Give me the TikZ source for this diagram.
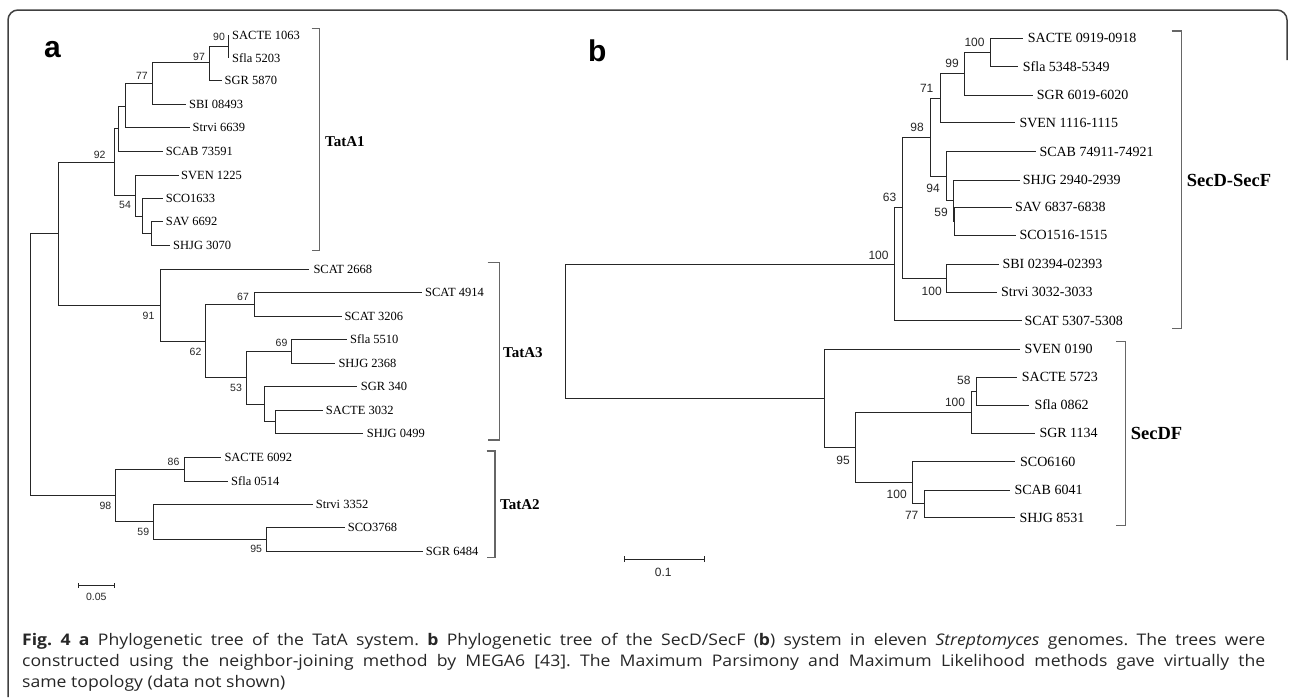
\documentclass[tikz,border=0pt]{standalone}
\usepackage{fontspec}
\setmainfont{Liberation Serif}
\newfontfamily\numfont{Liberation Sans}
\newfontfamily\capfont[FakeStretch=1.1]{Open Sans}
\newcommand{\mkleaf}[7]{\coordinate (#1) at (#3,#4); \draw[br] (#2) |- (#1); \node[#6] (#1t) at (#5,#4) {#7};}
\newcommand{\mknode}[4]{\coordinate (#1) at (#3,#4); \draw[br] (#2) |- (#1);}
\frenchspacing
\begin{document}
\begin{tikzpicture}[x=1pt,y=-1pt]
\tikzset{
 br/.style={line width=0.9pt, draw=black!85},
 brk/.style={line width=1.2pt, draw=black!60},
 la/.style={font=\fontsize{12.5}{14}\selectfont, anchor=base west, inner sep=0pt, yshift=-4.1pt},
 lb/.style={font=\fontsize{14}{16}\selectfont, anchor=base west, inner sep=0pt, yshift=-4.6pt},
 bsa/.style={font=\numfont\fontsize{10.5}{12}\selectfont, inner sep=0pt, text=black!85},
 bsb/.style={font=\numfont\fontsize{12}{14}\selectfont, inner sep=0pt, text=black!85},
 grpa/.style={font=\bfseries\fontsize{15}{17}\selectfont, anchor=west, inner sep=0pt},
 grpb/.style={font=\bfseries\fontsize{18.5}{20}\selectfont, anchor=west, inner sep=0pt},
 panel/.style={font=\numfont\bfseries\fontsize{30}{32}\selectfont, inner sep=0pt, anchor=base west},
 capline/.style={font=\capfont\fontsize{16}{18}\selectfont\frenchspacing, inner sep=0pt, anchor=base west, text=black!85},
 framestyle/.style={line width=1.5pt, draw=black!75, rounded corners=10pt},
}
\useasboundingbox (0,0) rectangle (1290,697);
% frame
\coordinate (fr1) at (8,697);
\coordinate (fr2) at (1287,10);
\coordinate (fr3) at (1287,60);
\draw[framestyle] (fr1) |- (fr2) -- (fr3);
% panel labels
\node[panel] (pa) at (44,57.3) {a};
\node[panel] (pb) at (588,61.7) {b};
% ================= panel a =================
\coordinate (A0) at (30.7,364.5);
\mknode{A1}{A0}{58.3}{233.5}
\mknode{a92}{A1}{114.3}{162}
\mknode{aS}{a92}{118.7}{128.8}
\mknode{aR}{aS}{125.3}{106}
\mknode{a77}{aR}{152}{83.8}
\mknode{a97}{a77}{209.3}{62.8}
\mknode{a90}{a97}{228}{46.5}
\mkleaf{lSACTEa}{a90}{228}{35}{232}{la}{SACTE 1063}
\mkleaf{lSflaa}{a90}{228}{58}{232}{la}{Sfla 5203}
\mkleaf{lSGRa}{a97}{221.7}{80}{224.5}{la}{SGR 5870}
\mkleaf{lSBIa}{a77}{185.7}{104.3}{189}{la}{SBI 08493}
\mkleaf{lStrvia}{aR}{190}{127.7}{192.5}{la}{Strvi 6639}
\mkleaf{lSCABa}{aS}{163}{151.7}{165.7}{la}{SCAB 73591}
\mknode{a54}{a92}{135.3}{195.5}
\mkleaf{lSVENa}{a54}{179}{175}{181}{la}{SVEN 1225}
\mknode{aQ}{a54}{142.7}{216}
\mkleaf{lSCOa}{aQ}{163.3}{198.3}{165.7}{la}{SCO1633}
\mknode{aP}{aQ}{151.7}{233.3}
\mkleaf{lSAVa}{aP}{163.3}{221.7}{165.7}{la}{SAV 6692}
\mkleaf{lSHJGa}{aP}{170}{245}{173}{la}{SHJG 3070}
\mknode{a91}{A1}{160}{305}
\mkleaf{lSCATb}{a91}{309.3}{269.3}{313.3}{la}{SCAT 2668}
\mknode{a62}{a91}{205.7}{341}
\mknode{a67}{a62}{254}{304.3}
\mkleaf{lSCATc}{a67}{421.7}{292.7}{425}{la}{SCAT 4914}
\mkleaf{lSCATd}{a67}{341.7}{316}{344.3}{la}{SCAT 3206}
\mknode{a53}{a62}{246.7}{377.8}
\mknode{a69}{a53}{291.7}{351.3}
\mkleaf{lSflab}{a69}{346.7}{339.3}{350}{la}{Sfla 5510}
\mkleaf{lSHJGb}{a69}{335}{363.3}{338.3}{la}{SHJG 2368}
\mknode{aO}{a53}{264}{404.2}
\mkleaf{lSGRb}{aO}{356.7}{386}{360.7}{la}{SGR 340}
\mknode{aN}{aO}{275.7}{421.8}
\mkleaf{lSACTEb}{aN}{322.7}{410.3}{325.7}{la}{SACTE 3032}
\mkleaf{lSHJGc}{aN}{363.3}{433.3}{366.7}{la}{SHJG 0499}
\mknode{a98}{A0}{115.3}{495.5}
\mknode{a86}{a98}{184.3}{469.2}
\mkleaf{lSACTEc}{a86}{221}{457.3}{224.3}{la}{SACTE 6092}
\mkleaf{lSflac}{a86}{228.3}{481}{231}{la}{Sfla 0514}
\mknode{a59}{a98}{153.3}{521.8}
\mkleaf{lStrvib}{a59}{313.3}{504.3}{315.7}{la}{Strvi 3352}
\mknode{a95}{a59}{266.7}{539.4}
\mkleaf{lSCOb}{a95}{345}{527.7}{347.7}{la}{SCO3768}
\mkleaf{lSGRc}{a95}{423.3}{551}{425.7}{la}{SGR 6484}
% bootstrap a
\node[bsa] (ba90) at (219,37.3) {90};
\node[bsa] (ba97) at (199,56.7) {97};
\node[bsa] (ba77) at (142,75.7) {77};
\node[bsa] (ba92) at (99.7,155) {92};
\node[bsa] (ba54) at (125,205) {54};
\node[bsa] (ba91) at (148.5,315.7) {91};
\node[bsa] (ba67) at (243,296.7) {67};
\node[bsa] (ba62) at (195.5,351.7) {62};
\node[bsa] (ba69) at (281.5,343.3) {69};
\node[bsa] (ba53) at (236,388.3) {53};
\node[bsa] (ba86) at (173.5,461.7) {86};
\node[bsa] (ba98) at (105.5,505.7) {98};
\node[bsa] (ba59) at (143.3,532.3) {59};
\node[bsa] (ba95) at (256.2,549.3) {95};
% brackets a
\coordinate (k1a) at (311.7,28.3); \coordinate (k1b) at (319.3,28.3);
\coordinate (k1c) at (319.3,250.7); \coordinate (k1d) at (311.7,250.7);
\draw[brk] (k1a) -- (k1b) -- (k1c) -- (k1d);
\node[grpa] (gTatA1) at (325,141.7) {TatA1};
\coordinate (k3a) at (487.7,262.7); \coordinate (k3b) at (499.3,262.7);
\coordinate (k3c) at (499.3,440); \coordinate (k3d) at (487.7,440);
\draw[brk] (k3a) -- (k3b) -- (k3c) -- (k3d);
\node[grpa] (gTatA3) at (503,352.3) {TatA3};
\coordinate (k2a) at (486.7,451); \coordinate (k2b) at (495,451);
\coordinate (k2c) at (495,557.7); \coordinate (k2d) at (486.7,557.7);
\draw[brk] (k2a) -- (k2b) -- (k2c) -- (k2d);
\node[grpa] (gTatA2) at (500,504.3) {TatA2};
% scale a
\coordinate (sa1) at (78.3,585.7); \coordinate (sa2) at (114.3,585.7);
\draw[br] (sa1) -- (sa2);
\draw[br] ([yshift=2.5pt]sa1) -- ([yshift=-2.5pt]sa1);
\draw[br] ([yshift=2.5pt]sa2) -- ([yshift=-2.5pt]sa2);
\node[bsa] (sal) at (96.3,597) {0.05};
% ================= panel b =================
\coordinate (B0) at (565.7,331.3);
\mknode{b100}{B0}{894.3}{264.2}
\mknode{b63}{b100}{902.3}{207.7}
\mknode{b98}{b63}{930}{137.2}
\mknode{b71}{b98}{940}{98.2}
\mknode{b99}{b71}{964.3}{73.8}
\mknode{b100t}{b99}{990}{52.5}
\mkleaf{lSACTEd}{b100t}{1022.7}{38.3}{1027.7}{lb}{SACTE 0919-0918}
\mkleaf{lSflad}{b100t}{1017.7}{66.7}{1022.7}{lb}{Sfla 5348-5349}
\mkleaf{lSGRd}{b99}{1032.7}{95}{1036.7}{lb}{SGR 6019-6020}
\mkleaf{lSVENb}{b71}{1015}{122.7}{1019.3}{lb}{SVEN 1116-1115}
\mknode{b94}{b98}{946}{176.2}
\mkleaf{lSCABb}{b94}{1036}{151.7}{1039.3}{lb}{SCAB 74911-74921}
\mknode{bX}{b94}{953.3}{200.6}
\mkleaf{lSHJGd}{bX}{1020}{180}{1022.7}{lb}{SHJG 2940-2939}
\mknode{b59}{bX}{954.5}{221.2}
\mkleaf{lSAVb}{b59}{1011.7}{207.3}{1015}{lb}{SAV 6837-6838}
\mkleaf{lSCOc}{b59}{1015.7}{235}{1019.3}{lb}{SCO1516-1515}
\mknode{b100s}{b63}{946.7}{278.2}
\mkleaf{lSBIb}{b100s}{999.3}{264}{1002.3}{lb}{SBI 02394-02393}
\mkleaf{lStrvic}{b100s}{996.7}{292.3}{1001}{lb}{Strvi 3032-3033}
\mkleaf{lSCATe}{b100}{1021.7}{320.7}{1024.3}{lb}{SCAT 5307-5308}
\mknode{bL}{B0}{824.3}{398.5}
\mkleaf{lSVENc}{bL}{1020}{349.3}{1024.3}{lb}{SVEN 0190}
\mknode{b95}{bL}{855.3}{447.7}
\mknode{b100c}{b95}{971}{412.2}
\mknode{b58}{b100c}{976.7}{391.2}
\mkleaf{lSACTEe}{b58}{1016.7}{377.3}{1021.7}{lb}{SACTE 5723}
\mkleaf{lSflae}{b58}{1029.3}{405}{1034.3}{lb}{Sfla 0862}
\mkleaf{lSGRe}{b100c}{1035}{433.3}{1039.3}{lb}{SGR 1134}
\mknode{b100d}{b95}{912.7}{482.8}
\mkleaf{lSCOd}{b100d}{1015}{461.7}{1020}{lb}{SCO6160}
\mknode{b77}{b100d}{924.3}{503.8}
\mkleaf{lSCABc}{b77}{1010}{490}{1014.3}{lb}{SCAB 6041}
\mkleaf{lSHJGe}{b77}{1015}{517.7}{1019.3}{lb}{SHJG 8531}
% bootstrap b
\node[bsb] (bb100) at (878.5,255) {100};
\node[bsb] (bb63) at (889.5,197.7) {63};
\node[bsb] (bb98) at (917,127.7) {98};
\node[bsb] (bb71) at (926.7,88.3) {71};
\node[bsb] (bb99) at (952,63.3) {99};
\node[bsb] (bb100t) at (974.5,42.7) {100};
\node[bsb] (bb94) at (933,188.3) {94};
\node[bsb] (bb59) at (941,212.3) {59};
\node[bsb] (bb100s) at (931.7,291) {100};
\node[bsb] (bb95) at (843,460) {95};
\node[bsb] (bb100c) at (955,402.3) {100};
\node[bsb] (bb58) at (963.8,380.7) {58};
\node[bsb] (bb100d) at (896.7,494.3) {100};
\node[bsb] (bb77) at (911.7,515.7) {77};
% brackets b
\coordinate (k4a) at (1171.7,31); \coordinate (k4b) at (1181.7,31);
\coordinate (k4c) at (1181.7,328.3); \coordinate (k4d) at (1171.7,328.3);
\draw[brk] (k4a) -- (k4b) -- (k4c) -- (k4d);
\node[grpb] (gSecDSecF) at (1186.7,180) {SecD-SecF};
\coordinate (k5a) at (1116,341.7); \coordinate (k5b) at (1125.7,341.7);
\coordinate (k5c) at (1125.7,525.7); \coordinate (k5d) at (1116,525.7);
\draw[brk] (k5a) -- (k5b) -- (k5c) -- (k5d);
\node[grpb] (gSecDF) at (1130.7,433.3) {SecDF};
% scale b
\coordinate (sb1) at (624,559); \coordinate (sb2) at (704.3,559);
\draw[br] (sb1) -- (sb2);
\draw[br] ([yshift=3pt]sb1) -- ([yshift=-3pt]sb1);
\draw[br] ([yshift=3pt]sb2) -- ([yshift=-3pt]sb2);
\node[bsb] (sbl) at (663.3,572.3) {0.1};
% caption
\node[capline] (cap1) at (22,645) {\makebox[1243pt][s]{\textbf{Fig.~4} \textbf{a} Phylogenetic tree of the TatA system. \textbf{b} Phylogenetic tree of the SecD/SecF (\textbf{b}) system in eleven \textit{Streptomyces} genomes. The trees were}};
\node[capline] (cap2) at (22,666) {\makebox[1243pt][s]{constructed using the neighbor-joining method by MEGA6 [43]. The Maximum Parsimony and Maximum Likelihood methods gave virtually the}};
\node[capline] (cap3) at (22,687) {same topology (data not shown)};
\end{tikzpicture}
\end{document}
